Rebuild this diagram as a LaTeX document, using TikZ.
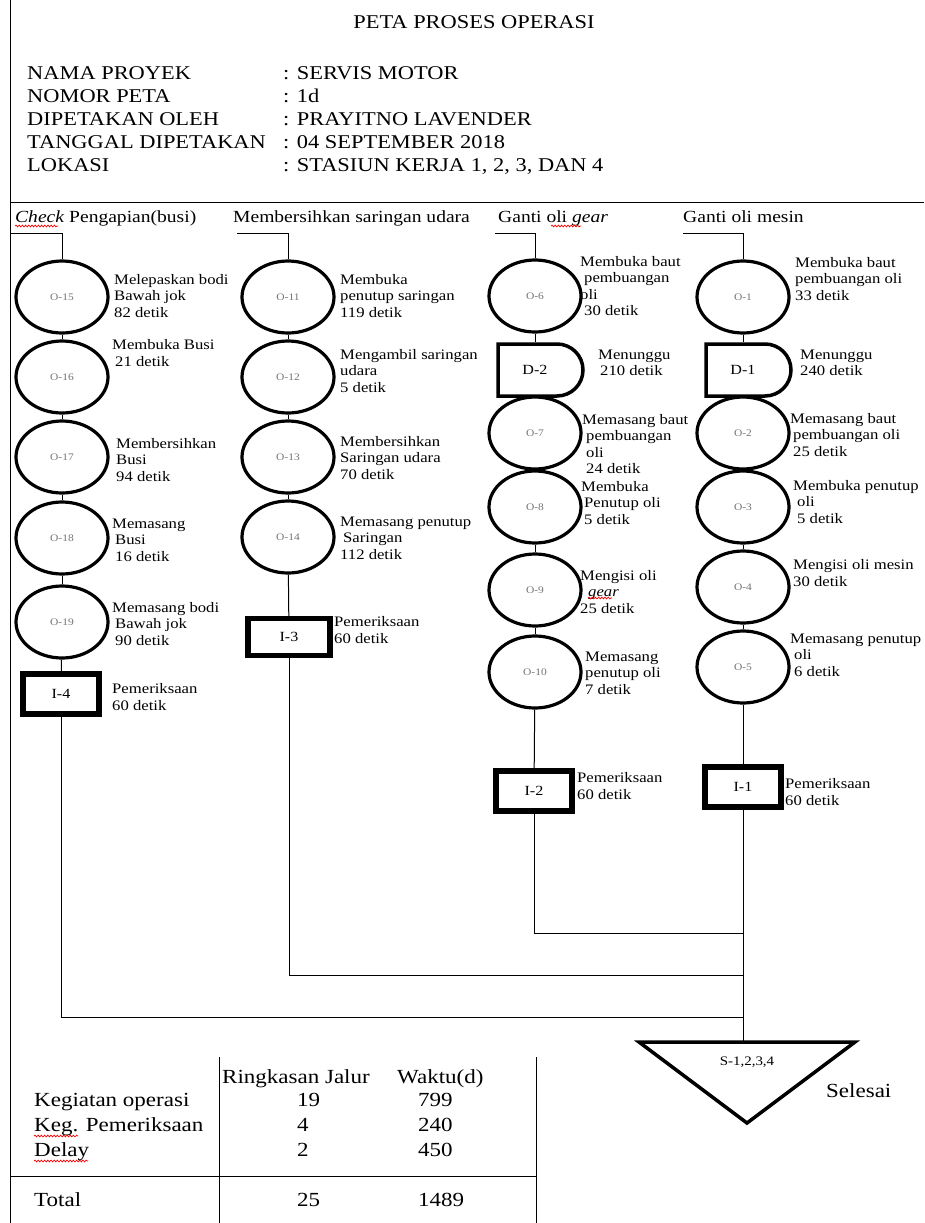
\documentclass[tikz,border=0pt]{standalone}
\usepackage{fontspec}
\setmainfont{Liberation Serif}[FakeStretch=1.15]
\usetikzlibrary{shapes.geometric,shapes.misc,decorations.pathmorphing}
\newcommand\fsz[2]{\fontsize{#1}{#2}\selectfont}
\begin{document}
\begin{tikzpicture}[x=1pt,y=-1pt,
  op/.style={ellipse, draw, line width=3.2pt, minimum width=92pt, minimum height=72pt, inner sep=0pt, font=\fsz{10}{12}, text=black!55},
  insp/.style={rectangle, draw, line width=5.5pt, minimum width=76pt, minimum height=40pt, inner sep=0pt, font=\fsz{14}{16}},
  dly/.style={rounded rectangle, rounded rectangle west arc=none, draw, line width=3.5pt, minimum width=85pt, minimum height=52pt, inner sep=0pt},
  dtxt/.style={font=\fsz{14}{16}, inner sep=0pt},
  lbl/.style={anchor=west, align=left, font=\fsz{14.5}{16.5}, inner sep=0pt},
  hdr/.style={anchor=base west, font=\fsz{19.5}{22}, inner sep=0pt},
  colh/.style={anchor=base west, font=\fsz{17}{19}, inner sep=0pt},
  tbl/.style={anchor=base west, font=\fsz{20}{22}, inner sep=0pt},
  conn/.style={line width=1pt},
  squig/.style={red, line width=0.7pt, decorate, decoration={snake, amplitude=0.9pt, segment length=3.2pt}}
]
\useasboundingbox (0,0) rectangle (924,1223);
% frame lines
\coordinate (ftop) at (10,0);
\coordinate (fbot) at (10,1223);
\draw[conn] (ftop) -- (fbot);
\coordinate (hl) at (10,202);
\coordinate (hr) at (924,202);
\draw[conn] (hl) -- (hr);

% header
\node[anchor=base, font=\fsz{19.5}{22}, inner sep=0pt] (title) at (474,29) {PETA PROSES OPERASI};
\node[hdr] (h1) at (27,80) {NAMA PROYEK};
\node[hdr] (h2) at (27,102.75) {NOMOR PETA};
\node[hdr] (h3) at (27,125.5) {DIPETAKAN OLEH};
\node[hdr] (h4) at (27,148.25) {TANGGAL DIPETAKAN};
\node[hdr] (h5) at (27,171) {LOKASI};
\node[hdr] (v1) at (283,80) {: SERVIS MOTOR};
\node[hdr] (v2) at (283,102.75) {: 1d};
\node[hdr] (v3) at (283,125.5) {: PRAYITNO LAVENDER};
\node[hdr] (v4) at (283,148.25) {: 04 SEPTEMBER 2018};
\node[hdr] (v5) at (283,171) {: STASIUN KERJA 1, 2, 3, DAN 4};

% column headers
\node[colh] (c1) at (15,222) {\textit{Check} Pengapian(busi)};
\node[colh] (c2) at (233,222) {Membersihkan saringan udara};
\node[colh] (c3) at (498,222) {Ganti oli \textit{gear}};
\node[colh] (c4) at (683,222) {Ganti oli mesin};
\draw[squig] (15,226) -- (58,226);
\draw[squig] (551,226) -- (581,226);

% column 1
\node[op] (o15) at (62,297) {O-15};
\node[op] (o16) at (62,377) {O-16};
\node[op] (o17) at (62,457) {O-17};
\node[op] (o18) at (62,538) {O-18};
\node[op] (o19) at (62,622) {O-19};
\node[insp] (i4) at (61,694) {I-4};
\node[lbl] (l15) at (114,296) {Melepaskan bodi\\Bawah jok\\82 detik};
\node[lbl] (l16) at (112,353) {Membuka Busi\\\hspace*{3pt}21 detik};
\node[lbl] (l17) at (116,460) {Membersihkan\\Busi\\94 detik};
\node[lbl] (l18) at (112,540) {Memasang\\\hspace*{3pt}Busi\\\hspace*{3pt}16 detik};
\node[lbl] (l19) at (112,624) {Memasang bodi\\\hspace*{3pt}Bawah jok\\\hspace*{3pt}90 detik};
\node[lbl] (li4) at (112,697) {Pemeriksaan\\60 detik};

% column 2
\node[op] (o11) at (288,297) {O-11};
\node[op] (o12) at (288,377) {O-12};
\node[op] (o13) at (288,457) {O-13};
\node[op] (o14) at (288,537) {O-14};
\node[insp, minimum width=82pt, minimum height=37pt] (i3) at (289,637) {I-3};
\node[lbl] (l11) at (340,296) {Membuka\\penutup saringan\\119 detik};
\node[lbl] (l12) at (340,371) {Mengambil saringan\\udara\\5 detik};
\node[lbl] (l13) at (340,458) {Membersihkan\\Saringan udara\\70 detik};
\node[lbl] (l14) at (340,538) {Memasang penutup\\\hspace*{3pt}Saringan\\112 detik};
\node[lbl] (li3) at (334,630) {Pemeriksaan\\60 detik};

% column 3
\node[op] (o6) at (535,296) {O-6};
\node[dly] (d2) at (540.5,370) {};
\node[dtxt] (d2t) at (535,370) {D-2};
\node[op] (o7) at (535,433) {O-7};
\node[op] (o8) at (535,507) {O-8};
\node[op] (o9) at (535,590) {O-9};
\node[op] (o10) at (535,672) {O-10};
\node[insp] (i2) at (534,791) {I-2};
\node[lbl] (l6) at (580,286) {Membuka baut\\\hspace*{4pt}pembuangan\\oli\\\hspace*{4pt}30 detik};
\node[lbl] (ld2) at (598,363) {Menunggu\\\hspace*{2pt}210 detik};
\node[lbl] (l7) at (582,444) {Memasang baut\\\hspace*{4pt}pembuangan\\\hspace*{4pt}oli\\\hspace*{4pt}24 detik};
\node[lbl] (l8) at (581,503) {Membuka\\\hspace*{3pt}Penutup oli\\\hspace*{3pt}5 detik};
\node[lbl] (l9) at (580,592) {Mengisi oli\\\hspace*{8pt}\textit{gear}\\25 detik};
\node[lbl] (l10) at (585,673) {Memasang\\penutup oli\\7 detik};
\node[lbl] (li2) at (577,786) {Pemeriksaan\\60 detik};
\draw[squig] (588,598) -- (612,598);

% column 4
\node[op] (o1) at (743,297) {O-1};
\node[dly] (d1) at (748.5,370) {};
\node[dtxt] (d1t) at (743,370) {D-1};
\node[op] (o2) at (743,433) {O-2};
\node[op] (o3) at (743,507) {O-3};
\node[op] (o4) at (743,587) {O-4};
\node[op] (o5) at (743,667) {O-5};
\node[insp] (i1) at (743,787) {I-1};
\node[lbl] (l1) at (795,279) {Membuka baut\\pembuangan oli\\33 detik};
\node[lbl] (ld1) at (800,363) {Menunggu\\240 detik};
\node[lbl] (l2) at (790,435) {Memasang baut\\\hspace*{3pt}pembuangan oli\\\hspace*{3pt}25 detik};
\node[lbl] (l3) at (793,502) {Membuka penutup\\\hspace*{4pt}oli\\\hspace*{4pt}5 detik};
\node[lbl] (l4) at (793,573) {Mengisi oli mesin\\30 detik};
\node[lbl] (l5) at (790,655) {Memasang penutup\\\hspace*{4pt}oli\\\hspace*{4pt}6 detik};
\node[lbl] (li1) at (785,792) {Pemeriksaan\\60 detik};

% header branch lines
\coordinate (b1) at (10,233);
\coordinate (b2) at (237,233);
\coordinate (b3) at (495,233);
\coordinate (b4) at (683,233);
\draw[conn] (b1) -| (o15);
\draw[conn] (b2) -| (o11);
\draw[conn] (b3) -| (o6);
\draw[conn] (b4) -| (o1);

% column connectors
\draw[conn] (o15) -- (o16);
\draw[conn] (o16) -- (o17);
\draw[conn] (o17) -- (o18);
\draw[conn] (o18) -- (o19);
\draw[conn] (o19) -- (i4);
\draw[conn] (o11) -- (o12);
\draw[conn] (o12) -- (o13);
\draw[conn] (o13) -- (o14);
\draw[conn] (o14) -- (i3);
\draw[conn] (o6) -- (o6 |- d2.north);
\draw[conn] (o7 |- d2.south) -- (o7);
\draw[conn] (o7) -- (o8);
\draw[conn] (o8) -- (o9);
\draw[conn] (o9) -- (o10);
\draw[conn] (o10) -- (i2);
\draw[conn] (o1) -- (o1 |- d1.north);
\draw[conn] (o2 |- d1.south) -- (o2);
\draw[conn] (o2) -- (o3);
\draw[conn] (o3) -- (o4);
\draw[conn] (o4) -- (o5);
\draw[conn] (o5) -- (i1);

% joins
\coordinate (j2) at (743,933);
\coordinate (j3) at (743,975);
\coordinate (j4) at (743,1017);
\draw[conn] (i2) |- (j2);
\draw[conn] (i3) |- (j3);
\draw[conn] (i4) |- (j4);

% end triangle
\coordinate (tl) at (639,1042);
\coordinate (tr) at (855,1042);
\coordinate (ta) at (747,1123);
\draw[conn] (i1) -- (i1 |- tl);
\draw[line width=3.5pt, line join=miter] (tl) -- (tr) -- (ta) -- cycle;
\node[font=\fsz{13}{15}, inner sep=0pt] (s) at (747,1062) {S-1,2,3,4};
\node[anchor=base west, font=\fsz{20}{22}, inner sep=0pt] (sel) at (826,1097) {Selesai};

% summary table
\coordinate (t1a) at (219,1057);
\coordinate (t1b) at (219,1223);
\coordinate (t2a) at (536,1057);
\coordinate (t2b) at (536,1223);
\coordinate (t3a) at (10,1176);
\coordinate (t3b) at (536,1176);
\draw[conn] (t1a) -- (t1b);
\draw[conn] (t2a) -- (t2b);
\draw[conn] (t3a) -- (t3b);
\node[tbl] (th1) at (222,1083) {Ringkasan Jalur};
\node[tbl] (th2) at (397,1083) {Waktu(d)};
\node[tbl] (r1) at (34,1106) {Kegiatan operasi};
\node[tbl] (r1a) at (297,1106) {19};
\node[tbl] (r1b) at (418,1106) {799};
\node[tbl] (r2) at (34,1131) {Keg. Pemeriksaan};
\node[tbl] (r2a) at (297,1131) {4};
\node[tbl] (r2b) at (418,1131) {240};
\node[tbl] (r3) at (34,1156) {Delay};
\node[tbl] (r3a) at (297,1156) {2};
\node[tbl] (r3b) at (418,1156) {450};
\node[tbl] (r4) at (34,1206) {Total};
\node[tbl] (r4a) at (297,1206) {25};
\node[tbl] (r4b) at (418,1206) {1489};
\draw[squig] (34,1136) -- (78,1136);
\draw[squig] (34,1161) -- (88,1161);
\end{tikzpicture}
\end{document}
